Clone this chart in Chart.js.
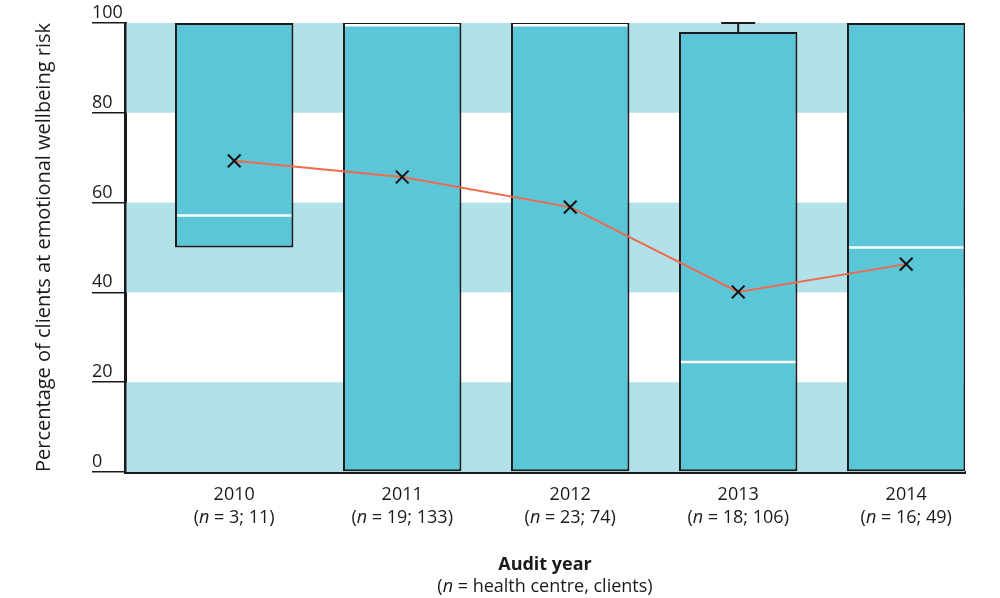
<!DOCTYPE html>
<html>
<head>
<meta charset="utf-8">
<script src="https://cdn.jsdelivr.net/npm/chart.js@4.4.1/dist/chart.umd.min.js"></script>
<style>
  html, body { margin: 0; padding: 0; background: #fff; }
  #wrap { width: 1000px; height: 598px; position: relative; }
</style>
</head>
<body>
<div id="wrap"><canvas id="chart"></canvas></div>
<script>
const years = [2010, 2011, 2012, 2013, 2014];
const nLabels = ["3; 11", "19; 133", "23; 74", "18; 106", "16; 49"];
const q1 = [50, 0, 0, 0, 0];
const q3 = [100, 100, 100, 98, 100];
const medians = [57.1, 99.5, 99.5, 24.5, 50];
const whiskerLow = [50, 0, 0, 0, 0];
const whiskerHigh = [100, 100, 100, 100, 100];
const means = [69.3, 65.7, 59.0, 40.1, 46.3];
const yTicks = [0, 20, 40, 60, 80, 100];
const bands = [[0, 20], [40, 60], [80, 100]];

const FONT = "'Open Sans', 'Noto Sans', sans-serif";

const decor = {
  id: "decor",
  beforeDatasetsDraw(chart) {
    const { ctx, chartArea: a, scales: { y } } = chart;
    ctx.save();
    ctx.fillStyle = "#b3e1e9";
    bands.forEach(([lo, hi]) => {
      const top = y.getPixelForValue(hi);
      const bot = y.getPixelForValue(lo);
      ctx.fillRect(a.left + 1.5, top, a.right - a.left - 1.5, bot - top);
    });
    ctx.restore();
  },
  afterDatasetDraw(chart, args) {
    if (args.index !== 1) return;
    const { ctx, scales: { x, y } } = chart;
    const bars = chart.getDatasetMeta(1).data;
    ctx.save();
    bars.forEach((bar, i) => {
      const half = bar.width / 2;
      // median
      ctx.strokeStyle = "#ffffff";
      ctx.lineWidth = 2.5;
      const my = y.getPixelForValue(medians[i]);
      ctx.beginPath();
      ctx.moveTo(bar.x - half + 2, my);
      ctx.lineTo(bar.x + half - 2, my);
      ctx.stroke();
      // whiskers
      ctx.strokeStyle = "#1a1a1a";
      ctx.lineWidth = 2;
      const cx = x.getPixelForValue(years[i]);
      if (whiskerHigh[i] > q3[i]) {
        const y0 = y.getPixelForValue(q3[i]);
        const y1 = y.getPixelForValue(whiskerHigh[i]);
        ctx.beginPath();
        ctx.moveTo(cx, y0);
        ctx.lineTo(cx, y1);
        ctx.moveTo(cx - 17, y1);
        ctx.lineTo(cx + 17, y1);
        ctx.stroke();
      }
      if (whiskerLow[i] < q1[i]) {
        const y0 = y.getPixelForValue(q1[i]);
        const y1 = y.getPixelForValue(whiskerLow[i]);
        ctx.beginPath();
        ctx.moveTo(cx, y0);
        ctx.lineTo(cx, y1);
        ctx.moveTo(cx - 17, y1);
        ctx.lineTo(cx + 17, y1);
        ctx.stroke();
      }
    });
    ctx.restore();
  },
  afterDraw(chart) {
    const { ctx, chartArea: a, scales: { x, y } } = chart;
    ctx.save();
    ctx.fillStyle = "#1a1a1a";
    // y tick labels sit above the tick line
    ctx.font = "18px " + FONT;
    ctx.textAlign = "left";
    ctx.textBaseline = "alphabetic";
    yTicks.forEach((t) => {
      ctx.fillText(String(t), 92, y.getPixelForValue(t) - 5);
    });

    // x labels with italic n
    const drawN = (text, cx, cy) => {
      const parts = [
        { s: "(", f: "18px " + FONT },
        { s: "n", f: "italic 18px " + FONT },
        { s: " = " + text + ")", f: "18px " + FONT },
      ];
      let total = 0;
      parts.forEach((p) => { ctx.font = p.f; total += ctx.measureText(p.s).width; });
      let px = cx - total / 2;
      ctx.textAlign = "left";
      parts.forEach((p) => { ctx.font = p.f; ctx.fillText(p.s, px, cy); px += ctx.measureText(p.s).width; });
    };
    years.forEach((yr, i) => {
      const cx = x.getPixelForValue(yr);
      ctx.font = "18px " + FONT;
      ctx.textAlign = "center";
      ctx.fillText(String(yr), cx, 500);
      drawN(nLabels[i], cx, 523);
    });

    const mid = (a.left + a.right) / 2;
    ctx.font = "bold 18px " + FONT;
    ctx.textAlign = "center";
    ctx.fillText("Audit year", mid, 570);
    drawN("health centre, clients", mid, 592);

    // y title
    ctx.translate(50, (a.top + a.bottom) / 2);
    ctx.rotate(-Math.PI / 2);
    ctx.font = "20px " + FONT;
    ctx.textAlign = "center";
    ctx.fillText("Percentage of clients at emotional wellbeing risk", 0, 0);
    ctx.restore();
  },
};

new Chart(document.getElementById("chart"), {
  data: {
    datasets: [
      {
        type: "line",
        data: years.map((yr, i) => ({ x: yr, y: means[i] })),
        borderColor: "#ef6a4c",
        borderWidth: 2,
        pointStyle: "crossRot",
        pointRadius: 9,
        pointBorderColor: "#111111",
        pointBorderWidth: 2,
        pointHoverRadius: 9,
        order: 0,
      },
      {
        type: "bar",
        data: years.map((yr, i) => ({ x: yr, y: [q1[i], q3[i]] })),
        backgroundColor: "#5bc6d8",
        borderColor: "#1a1a1a",
        borderWidth: 2,
        borderSkipped: false,
        barPercentage: 0.705,
        categoryPercentage: 1,
        order: 1,
      },
    ],
  },
  options: {
    responsive: true,
    maintainAspectRatio: false,
    animation: false,
    layout: { padding: { left: 92, right: 35, top: 23, bottom: 126 } },
    plugins: { legend: { display: false }, tooltip: { enabled: false } },
    scales: {
      x: {
        type: "linear",
        offset: false,
        min: 2009.35,
        max: 2014.35,
        afterBuildTicks: (s) => { s.ticks = years.map((v) => ({ value: v })); },
        ticks: { display: false },
        grid: { display: false },
        border: { display: true, color: "#1a1a1a", width: 3 },
        afterFit: (s) => { s.height = 0; },
      },
      y: {
        min: 0,
        max: 100,
        ticks: { display: false, stepSize: 20 },
        grid: { drawOnChartArea: false, tickLength: 33, color: "#1a1a1a", lineWidth: 1.5 },
        border: { display: true, color: "#1a1a1a", width: 3 },
        afterFit: (s) => { s.width = 33; },
      },
    },
  },
  plugins: [decor],
});
</script>
</body>
</html>
